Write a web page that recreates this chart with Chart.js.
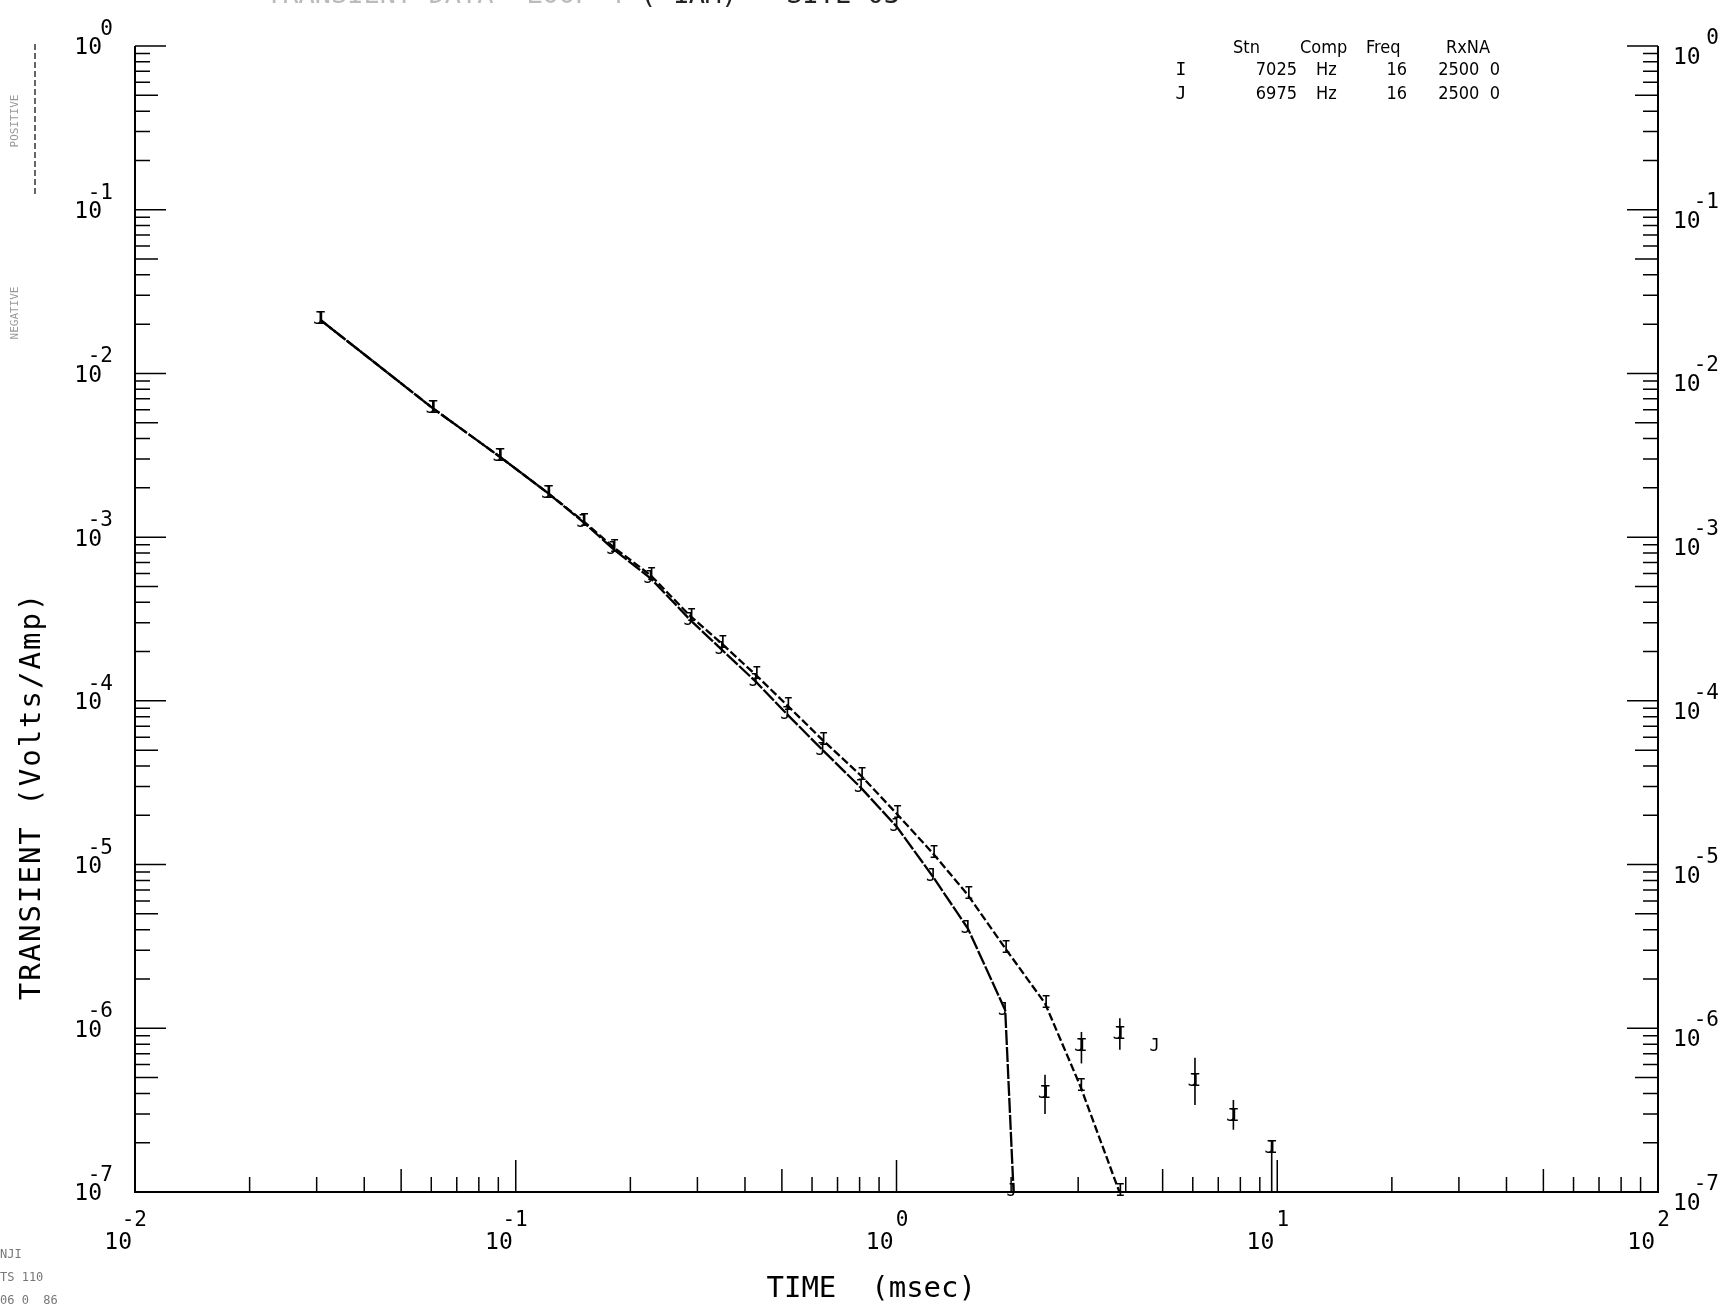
<!DOCTYPE html>
<html>
<head>
<meta charset="utf-8">
<script src="https://cdn.jsdelivr.net/npm/chart.js@4.4.0/dist/chart.umd.min.js"></script>
<style>
  html, body { margin: 0; padding: 0; background: #fff; }
  #chart { display: block; }
</style>
</head>
<body>
<canvas id="chart" width="1720" height="1307"></canvas>
<script>
// gate times (msec) and transient (V/A)
var timesI = [0.0307, 0.0606, 0.0908, 0.1218, 0.1507, 0.1808, 0.226, 0.288, 0.348, 0.427,
              0.517, 0.640, 0.807, 1.0, 1.247, 1.54, 1.93, 2.455, 3.04, 3.85];
var valuesI = [0.0212, 6.12e-3, 3.10e-3, 1.85e-3, 1.25e-3, 8.67e-4, 5.85e-4, 3.28e-4, 2.23e-4, 1.44e-4,
               9.36e-5, 5.76e-5, 3.49e-5, 2.05e-5, 1.17e-5, 6.52e-6, 3.08e-6, 1.42e-6, 4.43e-7, 1.0e-7];
var timesJ = [0.0307, 0.0606, 0.0908, 0.1218, 0.1507, 0.1808, 0.226, 0.288, 0.348, 0.427,
              0.517, 0.640, 0.807, 1.0, 1.247, 1.54, 1.93, 2.03];
var valuesJ = [0.0212, 6.12e-3, 3.10e-3, 1.85e-3, 1.23e-3, 8.42e-4, 5.61e-4, 3.10e-4, 2.05e-4, 1.31e-4,
               8.24e-5, 5.00e-5, 2.94e-5, 1.71e-5, 8.42e-6, 4.07e-6, 1.29e-6, 1.0e-7];

// negative readings (plotted as magnitude, not joined) with error bars
var negTimes = [2.455, 3.06, 3.86, 4.82, 6.08, 7.67, 9.67];
var negI = [4.0e-7, 7.7e-7, 9.1e-7, null, 4.7e-7, 2.9e-7, 1.85e-7];
var negJ = [4.0e-7, 7.7e-7, 9.1e-7, 7.7e-7, 4.7e-7, 2.9e-7, 1.85e-7];
var negLow = [3.0e-7, 6.1e-7, 7.4e-7, null, 3.4e-7, 2.4e-7, 1.0e-7];
var negHigh = [5.2e-7, 9.5e-7, 1.15e-6, null, 6.6e-7, 3.65e-7, 1.95e-7];

var xExponents = [-2, -1, 0, 1, 2];
var yExponents = [0, -1, -2, -3, -4, -5, -6, -7];

var legendHeader = ['Stn', 'Comp', 'Freq', 'RxNA'];
var legendRows = [
    ['I', '7025', 'Hz', '16', '2500  0'],
    ['J', '6975', 'Hz', '16', '2500  0']
];

function toPoints(xs, ys) {
    var out = [];
    for (var i = 0; i < xs.length; i++) {
        if (ys[i] !== null) out.push({x: xs[i], y: ys[i]});
    }
    return out;
}

var MONO = "'DejaVu Sans Mono', 'Liberation Mono', monospace";
var NARROW = "'Liberation Sans Narrow', 'DejaVu Sans Condensed', 'Liberation Sans', sans-serif";
var markerOf = {'I': 'I', 'J': 'J', 'I neg': 'I', 'J neg': 'J'};

function fmtExp(e) {
    return e < 0 ? '-' + Math.abs(e) : String(e);
}

var plotterFrame = {
    id: 'plotterFrame',
    afterDraw: function(chart) {
        var ctx = chart.ctx,
            a = chart.chartArea,
            xs = chart.scales.x,
            ys = chart.scales.y;

        ctx.save();
        ctx.strokeStyle = '#000';
        ctx.fillStyle = '#000';

        // frame: left, bottom, right
        ctx.lineWidth = 2;
        ctx.beginPath();
        ctx.moveTo(a.left, a.top);
        ctx.lineTo(a.left, a.bottom);
        ctx.lineTo(a.right, a.bottom);
        ctx.lineTo(a.right, a.top);
        ctx.stroke();

        // inward ticks
        ctx.lineWidth = 1.5;
        var e, m, v, p, len;
        for (e = -7; e <= 0; e++) {
            for (m = 1; m <= 9; m++) {
                v = m * Math.pow(10, e);
                if (v > 1.0000001) break;
                p = ys.getPixelForValue(v);
                len = m === 1 ? 31 : (m === 5 ? 23 : 15);
                ctx.beginPath();
                ctx.moveTo(a.left, p); ctx.lineTo(a.left + len, p);
                ctx.moveTo(a.right, p); ctx.lineTo(a.right - len, p);
                ctx.stroke();
            }
        }
        for (e = -2; e <= 2; e++) {
            for (m = 1; m <= 9; m++) {
                v = m * Math.pow(10, e);
                if (v > 100.000001) break;
                p = xs.getPixelForValue(v);
                len = m === 1 ? 32 : (m === 5 ? 23 : 15);
                ctx.beginPath();
                ctx.moveTo(p, a.bottom); ctx.lineTo(p, a.bottom - len);
                ctx.stroke();
            }
        }

        // y tick labels, both sides
        yExponents.forEach(function(ex) {
            var y = ys.getPixelForValue(Math.pow(10, ex));
            ctx.font = '23px ' + MONO;
            ctx.textBaseline = 'alphabetic';
            ctx.textAlign = 'right';
            ctx.fillText('10', a.left - 33, y + 8.4);
            ctx.textAlign = 'left';
            ctx.fillText('10', a.right + 15, y + 18);
            ctx.font = '21px ' + MONO;
            ctx.textAlign = 'right';
            ctx.fillText(fmtExp(ex), a.left - 22, y - 11);
            ctx.fillText(fmtExp(ex), a.right + 61, y - 2);
        });

        // x tick labels
        xExponents.forEach(function(ex) {
            var x = xs.getPixelForValue(Math.pow(10, ex));
            ctx.textBaseline = 'alphabetic';
            ctx.textAlign = 'right';
            ctx.font = '23px ' + MONO;
            ctx.fillText('10', x - 3, a.bottom + 57);
            ctx.font = '21px ' + MONO;
            ctx.fillText(fmtExp(ex), x + 12, a.bottom + 34);
        });

        // axis titles
        ctx.font = '29px ' + MONO;
        ctx.textAlign = 'right';
        ctx.fillText('TIME  (msec)', 976, 1297);
        ctx.save();
        ctx.translate(40, 796);
        ctx.rotate(-Math.PI / 2);
        ctx.textAlign = 'center';
        ctx.letterSpacing = '2px';
        ctx.fillText('TRANSIENT (Volts/Amp)', 0, 0);
        ctx.restore();

        // error bars of the negative readings
        ctx.lineWidth = 1.6;
        negTimes.forEach(function(t, i) {
            if (negLow[i] === null) return;
            var x = xs.getPixelForValue(t);
            ctx.beginPath();
            ctx.moveTo(x, ys.getPixelForValue(negLow[i]));
            ctx.lineTo(x, ys.getPixelForValue(negHigh[i]));
            ctx.stroke();
        });

        // letter markers at every data point
        ctx.font = '17px ' + MONO;
        ctx.textAlign = 'center';
        ctx.textBaseline = 'middle';
        chart.data.datasets.forEach(function(ds, d) {
            var meta = chart.getDatasetMeta(d),
                letter = markerOf[ds.label];
            meta.data.forEach(function(pt) {
                if (pt.skip) return;
                ctx.fillText(letter, pt.x + (letter === 'J' ? -2 : 1), pt.y);
            });
        });

        // station legend, upper right
        ctx.font = '18px ' + NARROW;
        ctx.textBaseline = 'middle';
        ctx.textAlign = 'left';
        var hx = [1233, 1300, 1366, 1446];
        legendHeader.forEach(function(h, i) { ctx.fillText(h, hx[i], 48); });
        legendRows.forEach(function(r, i) {
            var y = 70 + i * 24;
            ctx.font = '18px ' + MONO;
            ctx.textAlign = 'center';
            ctx.fillText(r[0], 1181, y);
            ctx.font = '18px ' + NARROW;
            ctx.textAlign = 'right';
            ctx.fillText(r[1], 1297, y);
            ctx.textAlign = 'left';
            ctx.fillText(r[2], 1316, y);
            ctx.textAlign = 'right';
            ctx.fillText(r[3], 1407, y);
            ctx.fillText(r[4], 1500, y);
        });

        // clipped page title at the very top
        ctx.font = '27px ' + MONO;
        ctx.textBaseline = 'alphabetic';
        ctx.textAlign = 'right';
        ctx.fillStyle = '#222';
        ctx.fillText('( 1AM)   SITE 03', 900, 3);
        ctx.fillStyle = '#bbb';
        ctx.fillText('TRANSIENT DATA  LOOP 4 ', 900 - ctx.measureText('( 1AM)   SITE 03').width, 3);

        // faint plotter notes at the left edge
        ctx.fillStyle = '#999';
        ctx.strokeStyle = '#333';
        ctx.lineWidth = 1.5;
        ctx.setLineDash([6, 3]);
        ctx.beginPath();
        ctx.moveTo(35, 44); ctx.lineTo(35, 197);
        ctx.stroke();
        ctx.setLineDash([]);
        ctx.font = '11px ' + MONO;
        ctx.textAlign = 'center';
        ctx.textBaseline = 'middle';
        ctx.save();
        ctx.translate(15, 121); ctx.rotate(-Math.PI / 2);
        ctx.fillText('POSITIVE', 0, 0);
        ctx.restore();
        ctx.save();
        ctx.translate(15, 313); ctx.rotate(-Math.PI / 2);
        ctx.fillText('NEGATIVE', 0, 0);
        ctx.restore();

        ctx.textAlign = 'left';
        ctx.textBaseline = 'alphabetic';
        ctx.font = '12px ' + MONO;
        ctx.fillStyle = '#777';
        ctx.fillText('NJI', 0, 1258);
        ctx.fillText('TS 110', 0, 1281);
        ctx.fillText('06 0  86', 0, 1304);

        ctx.restore();
    }
};

var chart = new Chart(document.getElementById('chart'), {
    type: 'scatter',
    data: {
        datasets: [{
            label: 'I',
            data: toPoints(timesI, valuesI),
            showLine: true,
            borderColor: '#000',
            borderWidth: 2.3,
            borderDash: [8, 3],
            pointRadius: 0,
            tension: 0
        }, {
            label: 'J',
            data: toPoints(timesJ, valuesJ),
            showLine: true,
            borderColor: '#000',
            borderWidth: 2.3,
            borderDash: [15, 2],
            pointRadius: 0,
            tension: 0
        }, {
            label: 'I neg',
            data: toPoints(negTimes, negI),
            showLine: false,
            pointRadius: 0
        }, {
            label: 'J neg',
            data: toPoints(negTimes, negJ),
            showLine: false,
            pointRadius: 0
        }]
    },
    options: {
        responsive: false,
        devicePixelRatio: 1,
        animation: false,
        layout: {padding: {left: 135, right: 62, top: 46, bottom: 115}},
        scales: {
            x: {type: 'logarithmic', min: 0.01, max: 100, display: false},
            y: {type: 'logarithmic', min: 1e-7, max: 1, display: false}
        },
        plugins: {
            legend: {display: false},
            tooltip: {enabled: false}
        }
    },
    plugins: [plotterFrame]
});
</script>
</body>
</html>
